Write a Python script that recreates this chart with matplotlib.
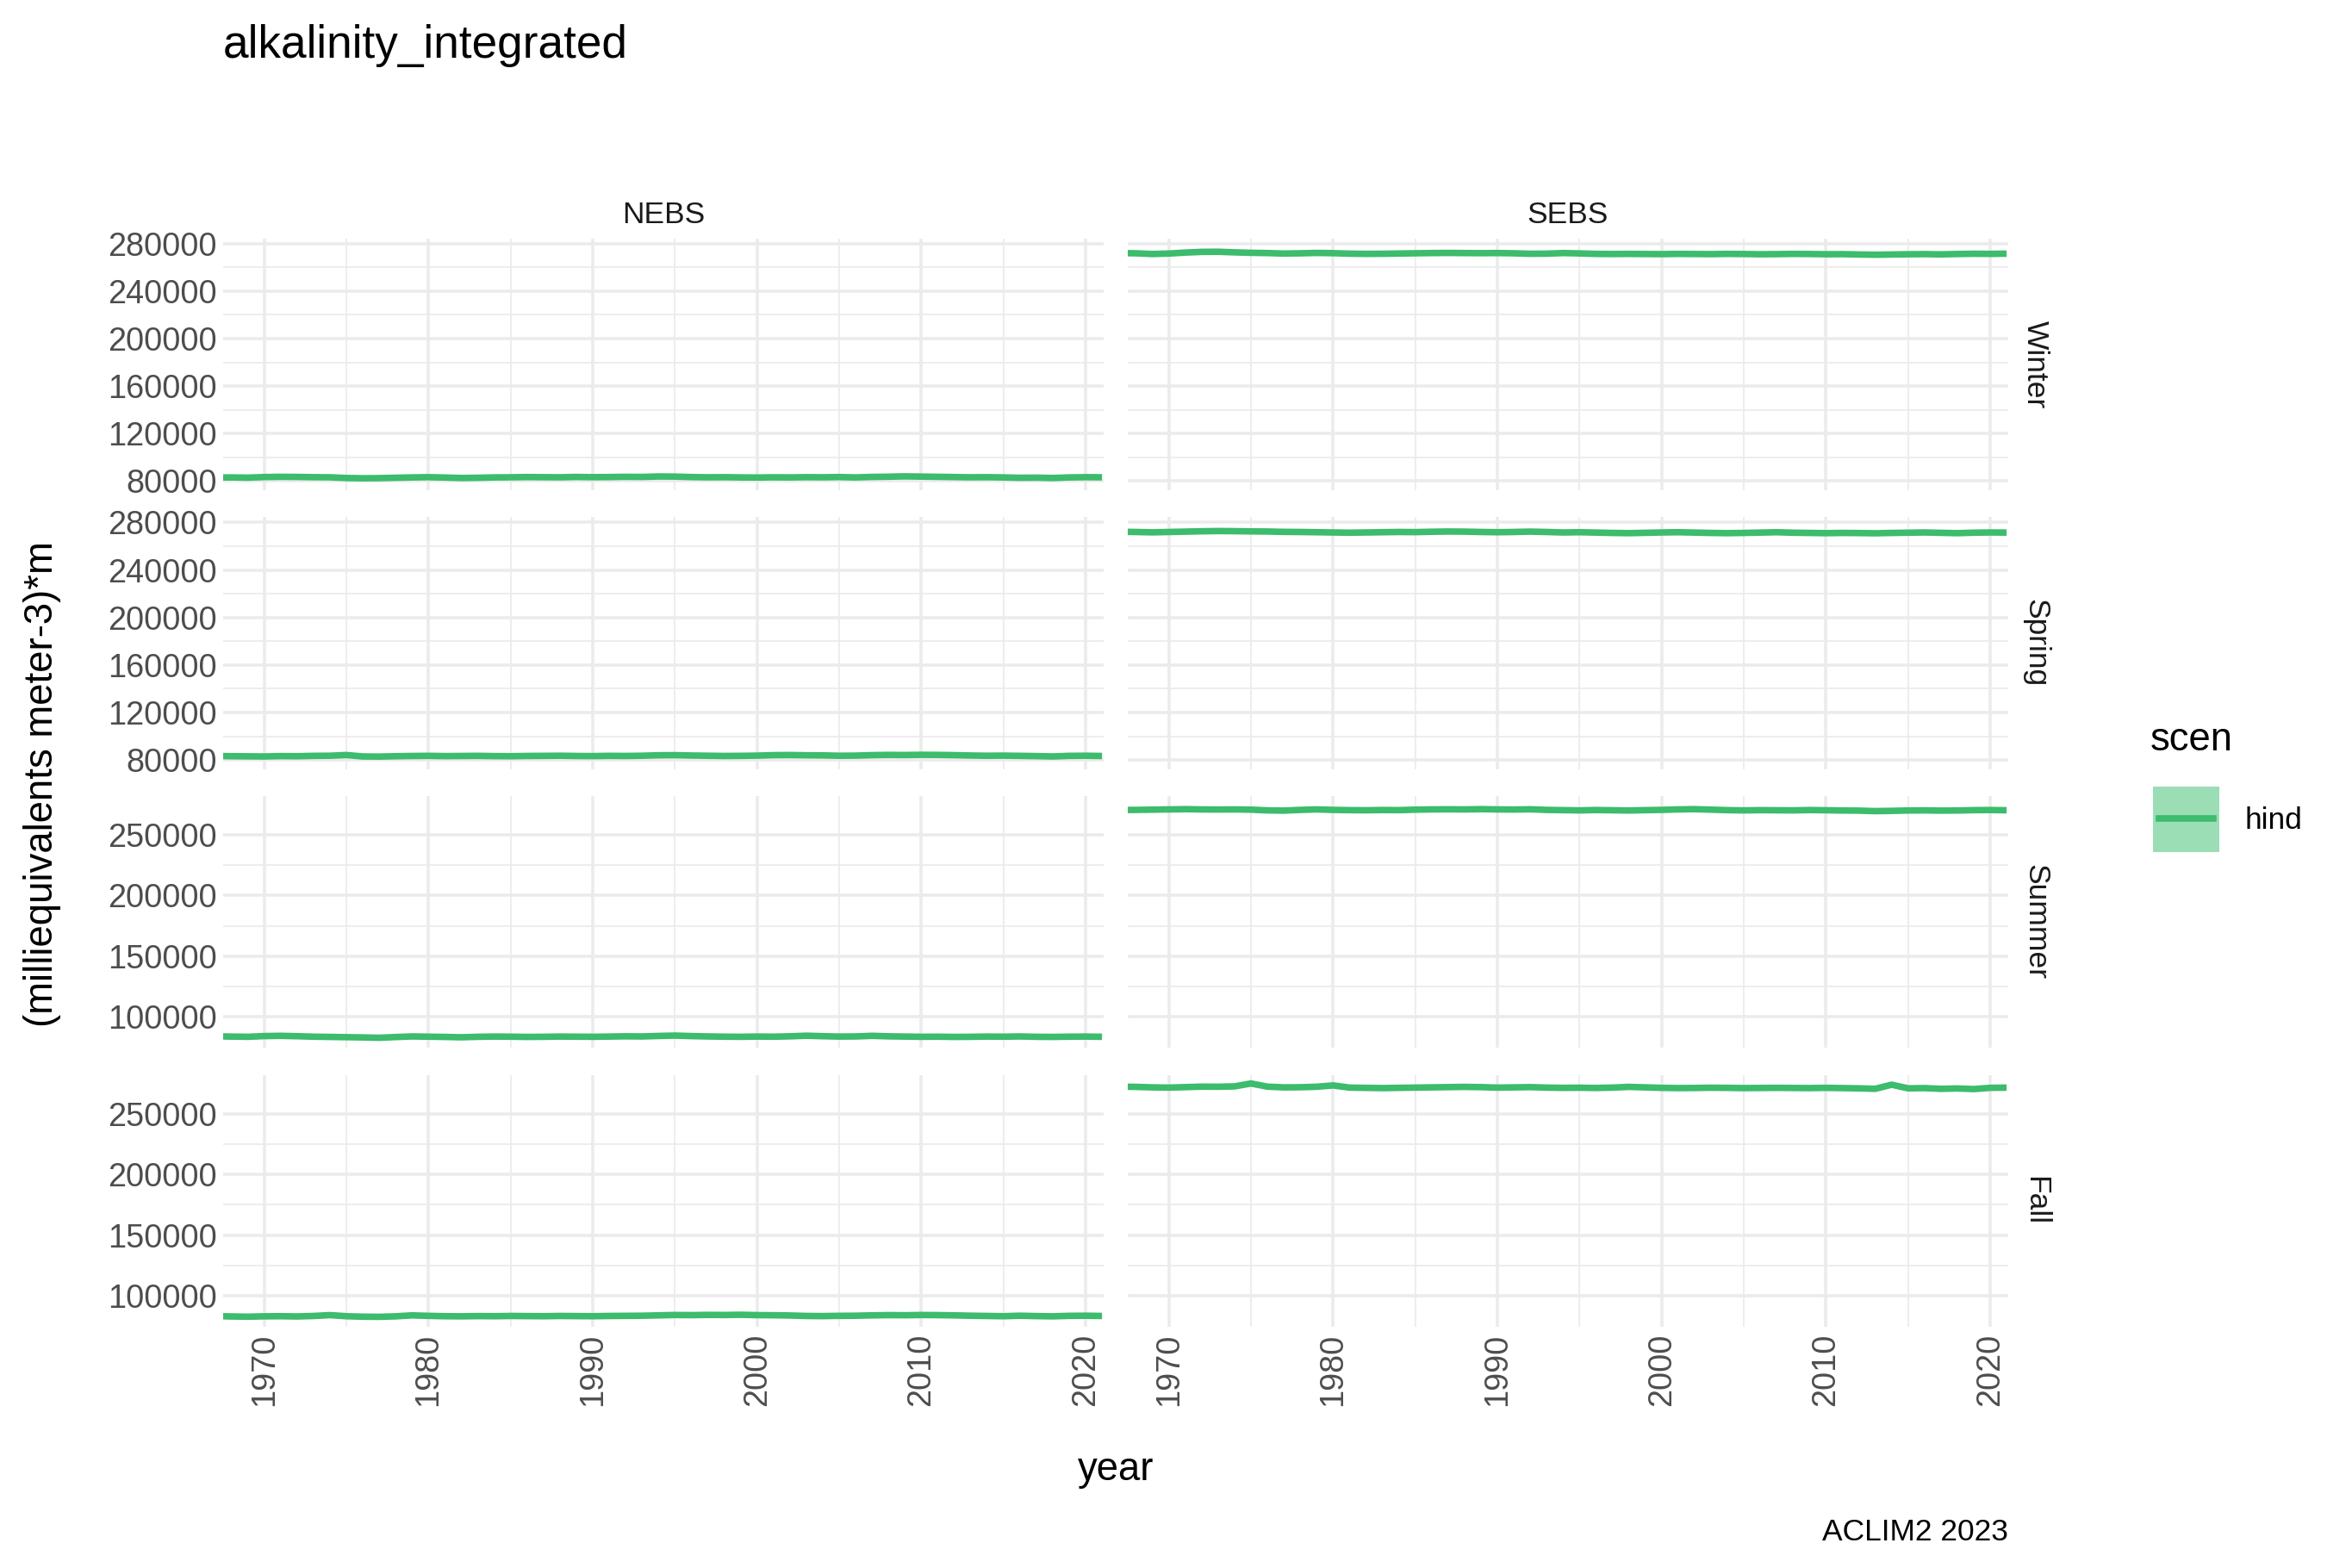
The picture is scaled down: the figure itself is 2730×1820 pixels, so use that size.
import matplotlib
matplotlib.use("Agg")
from matplotlib import pyplot as plt
from matplotlib.patches import Rectangle
from matplotlib.lines import Line2D

plt.rcParams['font.family'] = ['Liberation Sans', 'DejaVu Sans']

years = list(range(1967, 2022))
regions = ["NEBS", "SEBS"]
seasons = ["Winter", "Spring", "Summer", "Fall"]

# values in thousands, one per year 1967..2021
nebs_winter = [83.0, 83.1, 82.9, 83.4, 83.6, 83.5, 83.3, 83.2, 82.6, 82.4, 82.5, 82.8, 83.1, 83.3, 83.0, 82.6,
               82.8, 83.1, 83.2, 83.4, 83.3, 83.2, 83.5, 83.3, 83.4, 83.6, 83.5, 83.9, 83.8, 83.4, 83.2, 83.3,
               83.1, 83.0, 83.2, 83.1, 83.3, 83.2, 83.4, 83.1, 83.5, 83.7, 84.0, 83.8, 83.6, 83.4, 83.2, 83.3,
               83.1, 82.8, 82.9, 82.6, 83.1, 83.3, 83.2]
nebs_spring = [83.4, 83.2, 83.1, 83.0, 83.3, 83.2, 83.5, 83.6, 84.2, 83.0, 82.9, 83.2, 83.4, 83.5, 83.3, 83.4,
               83.5, 83.3, 83.2, 83.4, 83.5, 83.6, 83.4, 83.3, 83.5, 83.4, 83.6, 84.0, 84.1, 83.8, 83.6, 83.4,
               83.5, 83.7, 84.1, 84.2, 84.0, 83.9, 83.6, 83.7, 84.1, 84.3, 84.2, 84.4, 84.3, 84.1, 83.8, 83.6,
               83.7, 83.5, 83.3, 83.0, 83.5, 83.6, 83.4]
nebs_summer = [84.0, 83.8, 83.6, 84.2, 84.4, 84.1, 83.7, 83.5, 83.3, 83.1, 82.8, 83.4, 83.9, 83.7, 83.5, 83.2,
               83.6, 83.8, 83.7, 83.5, 83.6, 83.8, 83.7, 83.6, 83.8, 84.0, 83.9, 84.3, 84.6, 84.2, 83.9, 83.7,
               83.6, 83.8, 83.7, 84.0, 84.5, 84.1, 83.8, 83.9, 84.4, 84.0, 83.8, 83.6, 83.7, 83.5, 83.6, 83.8,
               83.7, 83.9, 83.6, 83.5, 83.7, 83.8, 83.6]
nebs_fall = [83.3, 83.0, 82.8, 83.1, 83.2, 83.0, 83.4, 84.1, 83.2, 82.8, 82.7, 83.1, 83.9, 83.5, 83.2, 83.1,
             83.3, 83.2, 83.4, 83.3, 83.2, 83.4, 83.3, 83.2, 83.4, 83.5, 83.6, 83.9, 84.2, 84.1, 84.3, 84.2,
             84.4, 84.1, 84.0, 83.8, 83.4, 83.3, 83.5, 83.6, 83.9, 84.1, 84.0, 84.2, 84.1, 83.9, 83.6, 83.4,
             83.2, 83.6, 83.3, 83.1, 83.5, 83.6, 83.4]
sebs_winter = [272.0, 271.8, 271.2, 271.6, 272.4, 273.0, 273.1, 272.6, 272.2, 272.0, 271.6, 271.8, 272.1, 271.9, 271.5, 271.3,
               271.4, 271.6, 271.8, 272.0, 272.1, 272.0, 271.9, 272.0, 271.8, 271.4, 271.5, 272.0, 271.7, 271.3, 271.2, 271.3,
               271.2, 271.1, 271.3, 271.2, 271.1, 271.3, 271.2, 271.0, 271.1, 271.3, 271.2, 271.0, 271.1, 270.8, 270.6, 270.8,
               271.0, 271.1, 270.9, 271.2, 271.4, 271.3, 271.5]
sebs_spring = [272.2, 272.0, 271.7, 272.0, 272.3, 272.6, 272.8, 272.7, 272.5, 272.4, 272.1, 272.0, 271.8, 271.6, 271.4, 271.6,
               271.8, 272.0, 271.9, 272.2, 272.4, 272.3, 272.0, 271.8, 272.0, 272.3, 272.0, 271.6, 271.8, 271.5, 271.2, 271.0,
               271.3, 271.6, 271.8, 271.5, 271.2, 271.0, 271.2, 271.5, 271.8, 271.4, 271.2, 271.0, 271.2, 271.1, 270.9, 271.2,
               271.4, 271.6, 271.3, 271.0, 271.4, 271.6, 271.5]
sebs_summer = [270.5, 270.6, 270.8, 271.0, 271.2, 271.0, 270.9, 271.0, 270.8, 270.2, 270.0, 270.6, 271.0, 270.6, 270.4, 270.3,
               270.5, 270.4, 270.8, 271.0, 271.1, 271.0, 271.2, 271.0, 270.9, 271.1, 270.6, 270.4, 270.2, 270.5, 270.3, 270.1,
               270.4, 270.6, 271.0, 271.2, 270.8, 270.4, 270.2, 270.4, 270.3, 270.2, 270.5, 270.3, 270.1, 270.0, 269.6, 269.8,
               270.1, 270.2, 270.0, 270.1, 270.4, 270.5, 270.3]
sebs_fall = [272.4, 272.2, 271.8, 271.6, 272.0, 272.4, 272.3, 272.6, 275.0, 272.4, 271.8, 271.9, 272.3, 273.4, 271.6, 271.4,
             271.2, 271.4, 271.6, 271.8, 272.0, 272.2, 272.0, 271.6, 271.8, 272.0, 271.6, 271.4, 271.5, 271.3, 271.6, 272.2,
             271.8, 271.4, 271.2, 271.3, 271.5, 271.4, 271.2, 271.3, 271.4, 271.3, 271.2, 271.4, 271.2, 271.0, 270.6, 274.0,
             271.0, 271.2, 270.6, 270.9, 270.4, 271.4, 271.6]

data = {
    ("NEBS", "Winter"): nebs_winter, ("SEBS", "Winter"): sebs_winter,
    ("NEBS", "Spring"): nebs_spring, ("SEBS", "Spring"): sebs_spring,
    ("NEBS", "Summer"): nebs_summer, ("SEBS", "Summer"): sebs_summer,
    ("NEBS", "Fall"): nebs_fall, ("SEBS", "Fall"): sebs_fall,
}

row_ticks = {
    "Winter": [80000, 120000, 160000, 200000, 240000, 280000],
    "Spring": [80000, 120000, 160000, 200000, 240000, 280000],
    "Summer": [100000, 150000, 200000, 250000],
    "Fall": [100000, 150000, 200000, 250000],
}
row_lims = {"Winter": (72500, 284500), "Spring": (72500, 284500),
            "Summer": (74500, 282000), "Fall": (74500, 282000)}

line_col = "#3CBC6C"
grid_col = "#EBEBEB"
W, H = 1560, 1040

fig = plt.figure(figsize=(15, 10), dpi=182)
lefts = [148, 748]
tops = [158, 343, 528, 713]
pw, ph = 584, 167

for r, season in enumerate(seasons):
    for c, region in enumerate(regions):
        ax = fig.add_axes([lefts[c] / W, 1 - (tops[r] + ph) / H, pw / W, ph / H])
        vals = [v * 1000 for v in data[(region, season)]]
        ax.plot(years, vals, color=line_col, lw=3.0, solid_capstyle="butt", zorder=3)
        ax.set_xlim(1967.5, 2021.1)
        ax.set_ylim(*row_lims[season])
        ax.set_xticks([1970, 1980, 1990, 2000, 2010, 2020])
        ax.set_xticks([1975, 1985, 1995, 2005, 2015], minor=True)
        t = row_ticks[season]
        ax.set_yticks(t)
        ax.set_yticks([(a + b) / 2 for a, b in zip(t[:-1], t[1:])], minor=True)
        ax.grid(which="major", color=grid_col, lw=1.4, zorder=0)
        ax.grid(which="minor", color=grid_col, lw=0.7, zorder=0)
        for s in ax.spines.values():
            s.set_visible(False)
        ax.tick_params(which="both", length=0, labelsize=15, colors="#4D4D4D", pad=3)
        if c == 1:
            ax.set_yticklabels([])
        if r < 3:
            ax.set_xticklabels([])
        else:
            for lab in ax.get_xticklabels():
                lab.set_rotation(90)
        if r == 0:
            ax.set_title(region, fontsize=14, color="#1A1A1A", pad=7)
        if c == 1:
            ax.text(1.015, 0.5, season, rotation=-90, transform=ax.transAxes,
                    ha="left", va="center", fontsize=14, color="#1A1A1A")

fig.text(148 / W, 1 - 30 / H, "alkalinity_integrated", fontsize=21, ha="left", va="center")
fig.text(740 / W, 1 - 975 / H, "year", fontsize=18, ha="center", va="center")
fig.text(28 / W, 1 - 520 / H, "(milliequivalents meter-3)*m", fontsize=18,
         rotation=90, ha="center", va="center")
fig.text(1332 / W, 1 - 1016 / H, "ACLIM2 2023", fontsize=14, ha="right", va="center")

# legend
fig.text(1426 / W, 1 - 491 / H, "scen", fontsize=18, ha="left", va="center")
fig.patches.append(Rectangle((1428 / W, 1 - 565 / H), 44 / W, 43 / H,
                             transform=fig.transFigure, color="#9BDDB4", lw=0))
fig.lines.append(Line2D([1432 / W, 1468 / W], [1 - 543 / H, 1 - 543 / H],
                        transform=fig.transFigure, color=line_col, lw=3.0))
fig.text(1489 / W, 1 - 544 / H, "hind", fontsize=14, ha="left", va="center")

fig.savefig("out.png", dpi=182, facecolor="white")
